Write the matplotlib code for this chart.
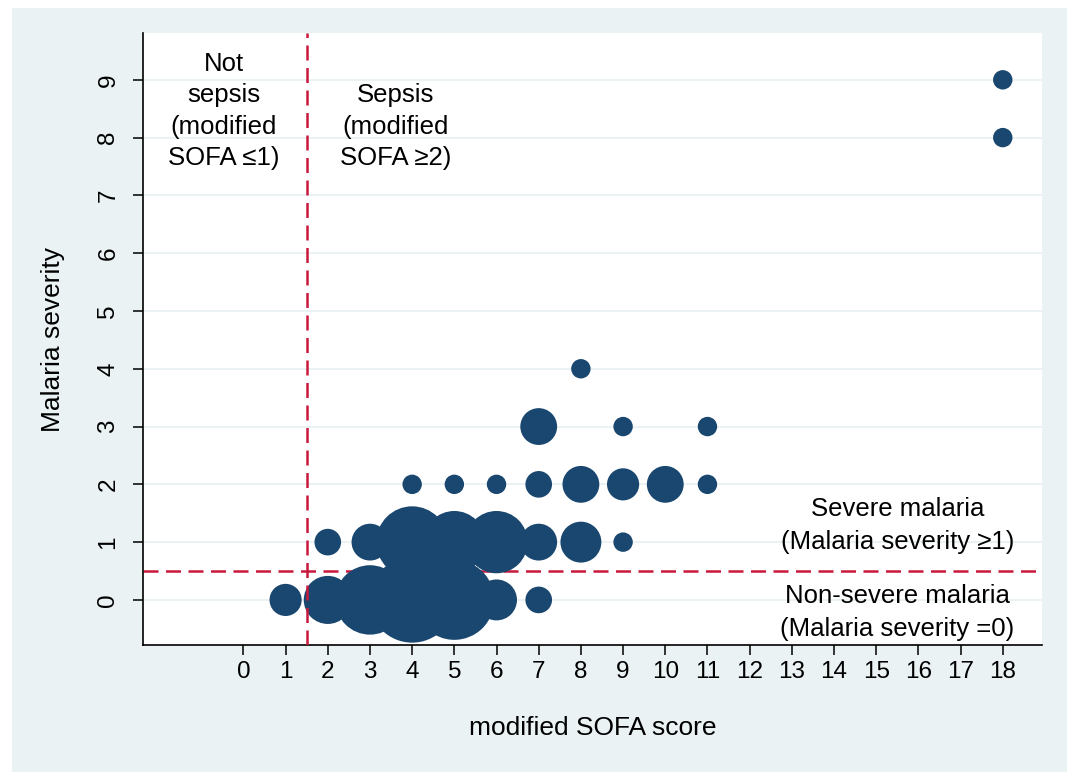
import matplotlib
matplotlib.use("Agg")
import matplotlib.pyplot as plt
from matplotlib.patches import Rectangle
import numpy as np

plt.rcParams["font.family"] = ["Liberation Sans", "DejaVu Sans"]

# bubble data: modified SOFA score, malaria severity, number of patients
sofa = [1, 2, 3, 4, 5, 6, 7,
        2, 3, 4, 5, 6, 7, 8, 9,
        4, 5, 6, 7, 8, 9, 10, 11,
        7, 9, 11,
        8,
        18, 18]
severity = [0, 0, 0, 0, 0, 0, 0,
            1, 1, 1, 1, 1, 1, 1, 1,
            2, 2, 2, 2, 2, 2, 2, 2,
            3, 3, 3,
            4,
            8, 9]
count = [3, 7, 15, 23, 20, 5, 2,
         2, 4, 16, 12, 12, 4, 5, 1,
         1, 1, 1, 2, 4, 3, 4, 1,
         4, 1, 1,
         1,
         1, 1]

xticks = list(range(0, 19))
yticks = list(range(0, 10))

navy = "#1a476f"
red = "#c8183c"
bg = "#eaf2f3"

fig = plt.figure(figsize=(10.69, 7.72), dpi=100)
fig.patch.set_facecolor("white")
fig.patches.append(Rectangle((12 / 1069, 0), 1055 / 1069, 764 / 772,
                             transform=fig.transFigure, facecolor=bg,
                             edgecolor="none", zorder=-10))

ax = fig.add_axes([143 / 1069, 1 - 645 / 772, 899 / 1069, 612 / 772])
ax.set_facecolor("white")

# horizontal grid
for y in yticks:
    ax.axhline(y, color=bg, lw=1.4, zorder=0)

ax.axhline(0.5, color=red, lw=1.8, ls=(0, (6, 3)), zorder=1)

sizes = np.array(count) * 157
ax.scatter(sofa, severity, s=sizes, color=navy, edgecolors=navy,
           linewidths=1.44, zorder=2)

ax.axvline(1.5, color=red, lw=1.8, ls=(0, (6, 3)), zorder=3)

ax.set_xlim(-2.38, 18.93)
ax.set_ylim(-0.78, 9.81)
ax.set_xticks(xticks)
ax.set_yticks(yticks)
ax.tick_params(axis="x", length=7, width=1.1, labelsize=17.5, pad=4.5)
ax.tick_params(axis="y", length=7, width=1.1, labelsize=17.5, pad=10,
               labelrotation=90)
for lab in ax.get_yticklabels():
    lab.set_va("center")

for side in ["top", "right"]:
    ax.spines[side].set_visible(False)
for side in ["left", "bottom"]:
    ax.spines[side].set_linewidth(1.2)

ax.set_xlabel("modified SOFA score", fontsize=19)
ax.xaxis.set_label_coords(0.5, -0.116)
ax.set_ylabel("Malaria severity", fontsize=19)
ax.yaxis.set_label_coords(-0.087, 0.5)

ax.text(-0.46, 8.46, "Not\nsepsis\n(modified\nSOFA ≤1)", ha="center",
        va="center", fontsize=18.5, linespacing=1.38)
ax.text(3.6, 8.19, "Sepsis\n(modified\nSOFA ≥2)", ha="center",
        va="center", fontsize=18.5, linespacing=1.38)
ax.text(15.5, 1.29, "Severe malaria\n(Malaria severity ≥1)", ha="center",
        va="center", fontsize=18.5, linespacing=1.45)
ax.text(15.5, -0.22, "Non-severe malaria\n(Malaria severity =0)", ha="center",
        va="center", fontsize=18.5, linespacing=1.45)

fig.savefig("out.png", dpi=100)
